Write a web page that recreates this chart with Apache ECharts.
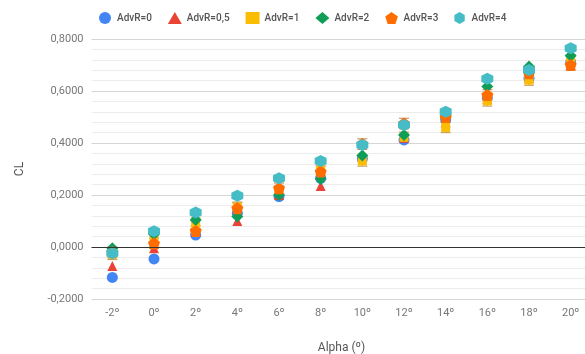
<!DOCTYPE html>
<html>
<head>
<meta charset="utf-8">
<script src="https://cdn.jsdelivr.net/npm/echarts@6/dist/echarts.min.js"></script>
<style>
  html, body { margin: 0; padding: 0; background: #fff; }
  #chart { width: 585px; height: 354px; }
</style>
</head>
<body>
<div id="chart"></div>
<script>
// Angle of attack categories (degrees)
const alphaLabels = ['-2º', '0º', '2º', '4º', '6º', '8º', '10º', '12º', '14º', '16º', '18º', '20º'];

// Lift coefficient per advance ratio
const clAdvR0  = [-0.117, -0.046, 0.046, 0.130, 0.194, 0.264, 0.340, 0.412, 0.490, 0.573, 0.649, 0.709];
const clAdvR05 = [-0.073, -0.005, 0.060, 0.100, 0.200, 0.235, 0.345, 0.420, 0.480, 0.570, 0.650, 0.700];
const clAdvR1  = [-0.028, 0.030, 0.092, 0.153, 0.215, 0.295, 0.331, 0.422, 0.460, 0.562, 0.642, 0.720];
const clAdvR2  = [-0.005, 0.049, 0.104, 0.117, 0.200, 0.262, 0.352, 0.431, 0.500, 0.617, 0.694, 0.736];
const clAdvR3  = [-0.020, 0.014, 0.062, 0.149, 0.226, 0.290, 0.396, 0.475, 0.500, 0.585, 0.668, 0.700];
const clAdvR4  = [-0.024, 0.061, 0.133, 0.197, 0.264, 0.331, 0.392, 0.469, 0.520, 0.647, 0.681, 0.764];

// Symmetric uncertainty on the AdvR=1 and AdvR=3 measurements
const errAdvR1 = [0.02, 0.02, 0.02, 0.02, 0.02, 0.02, 0.02, 0.02, 0.02, 0.02, 0.02, 0.02];
const errAdvR3 = [0.02, 0.02, 0.02, 0.02, 0.02, 0.02, 0.02, 0.02, 0.02, 0.02, 0.02, 0.02];

const yTicks = { min: -0.2, max: 0.8, interval: 0.2 };

const HEXAGON = 'path://M50 0 L93.3 25 L93.3 75 L50 100 L6.7 75 L6.7 25 Z';
const PENTAGON = 'path://M50 2 L97.6 36.5 L79.4 92.5 L20.6 92.5 L2.4 36.5 Z';

const FONT = 'Roboto, "Noto Sans", sans-serif';

function scatter(name, values, color, symbol, size) {
  return {
    name: name,
    type: 'scatter',
    data: values.map((v, i) => [i, v]),
    symbol: symbol,
    symbolSize: size,
    itemStyle: { color: color, opacity: 1 },
    emphasis: { disabled: true }
  };
}

function errorBars(values, errs, color) {
  return {
    type: 'custom',
    silent: true,
    data: values.map((v, i) => [i, v - errs[i], v + errs[i]]),
    renderItem: function (params, api) {
      const lo = api.coord([api.value(0), api.value(1)]);
      const hi = api.coord([api.value(0), api.value(2)]);
      const half = 5;
      const style = { stroke: color, lineWidth: 1.2 };
      return {
        type: 'group',
        children: [
          { type: 'line', shape: { x1: lo[0], y1: lo[1], x2: hi[0], y2: hi[1] }, style: style },
          { type: 'line', shape: { x1: lo[0] - half, y1: lo[1], x2: lo[0] + half, y2: lo[1] }, style: style },
          { type: 'line', shape: { x1: hi[0] - half, y1: hi[1], x2: hi[0] + half, y2: hi[1] }, style: style }
        ]
      };
    }
  };
}

const chart = echarts.init(document.getElementById('chart'), null, { renderer: 'canvas' });

const zeroLine = scatter('AdvR=0', clAdvR0, '#4285f4', 'circle', 11);
zeroLine.markLine = {
  silent: true,
  symbol: 'none',
  label: { show: false },
  lineStyle: { color: '#333', width: 1.2, type: 'solid' },
  data: [{ yAxis: 0 }]
};

chart.setOption({
  animation: false,
  backgroundColor: '#fff',
  textStyle: { fontFamily: FONT },
  grid: {
    left: 91.5, top: 39, width: 500, height: 260,
    containLabel: false,
    outerBoundsMode: 'none'
  },
  legend: {
    top: 7,
    left: 94,
    itemWidth: 14,
    itemHeight: 12,
    itemGap: 16,
    textStyle: { color: '#555', fontSize: 10, fontWeight: 500, fontFamily: FONT },
    data: [
      { name: 'AdvR=0', icon: 'circle' },
      { name: 'AdvR=0,5', icon: 'triangle' },
      { name: 'AdvR=1', icon: 'rect' },
      { name: 'AdvR=2', icon: 'diamond' },
      { name: 'AdvR=3', icon: PENTAGON },
      { name: 'AdvR=4', icon: HEXAGON }
    ]
  },
  xAxis: {
    type: 'category',
    data: alphaLabels,
    boundaryGap: true,
    name: 'Alpha (º)',
    nameLocation: 'middle',
    nameGap: 43,
    nameTextStyle: { color: '#555', fontSize: 12, fontFamily: FONT },
    axisLine: { show: false },
    axisTick: { show: false },
    splitLine: { show: false },
    axisLabel: { color: '#777', fontSize: 11, margin: 9, fontFamily: FONT }
  },
  yAxis: {
    type: 'value',
    min: yTicks.min,
    max: yTicks.max,
    interval: yTicks.interval,
    name: 'CL',
    nameLocation: 'middle',
    nameGap: 66,
    nameTextStyle: { color: '#555', fontSize: 12, fontFamily: FONT },
    axisLine: { show: false },
    axisTick: { show: false },
    axisLabel: {
      color: '#777',
      fontSize: 11,
      margin: 8,
      fontFamily: FONT,
      formatter: v => v.toFixed(4).replace('.', ',')
    },
    splitLine: { show: true, lineStyle: { color: '#d6d6d6', width: 1 } },
    minorTick: { show: false, splitNumber: 5 },
    minorSplitLine: { show: true, lineStyle: { color: '#ececec', width: 1 } }
  },
  series: [
    zeroLine,
    scatter('AdvR=0,5', clAdvR05, '#ea4335', 'triangle', 10),
    scatter('AdvR=1', clAdvR1, '#fbbc04', 'rect', 9),
    errorBars(clAdvR1, errAdvR1, '#c9a25e'),
    scatter('AdvR=2', clAdvR2, '#0f9d58', 'diamond', 12),
    scatter('AdvR=3', clAdvR3, '#ff6d01', PENTAGON, 12),
    errorBars(clAdvR3, errAdvR3, '#cf9462'),
    scatter('AdvR=4', clAdvR4, '#46bdc6', HEXAGON, 12)
  ]
});
</script>
</body>
</html>
